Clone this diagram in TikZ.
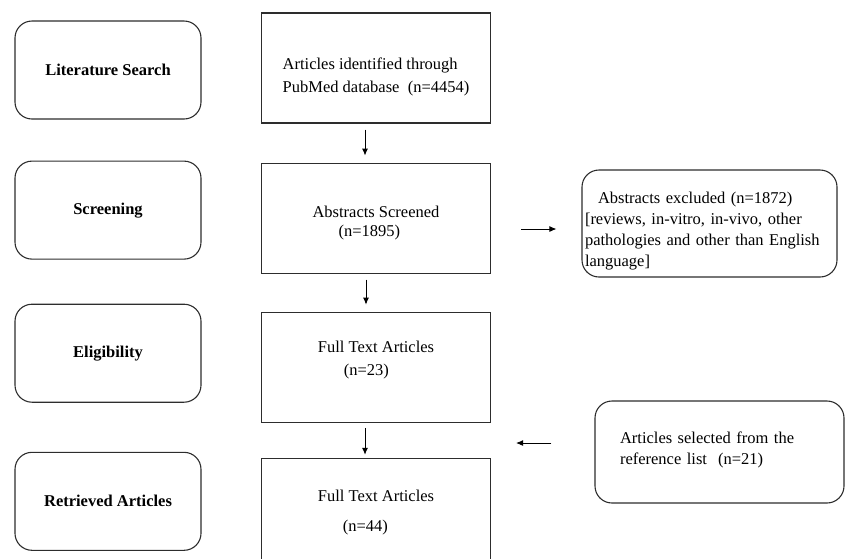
\documentclass[tikz,border=0pt]{standalone}
\usepackage{fontspec}
\setmainfont{Liberation Serif}
\usetikzlibrary{positioning,arrows.meta}
\definecolor{boxline}{RGB}{45,45,45}

\begin{document}
\begin{tikzpicture}[x=1pt,y=-1pt,
    stage/.style={rectangle,rounded corners=17pt,draw=boxline,line width=1.1pt,minimum width=186pt,minimum height=98pt,align=center,font=\fontsize{16.5}{20}\selectfont\bfseries},
    record/.style={rectangle,draw=boxline,line width=1.1pt,minimum width=229pt,minimum height=110pt,align=left,font=\fontsize{16.5}{23}\selectfont},
    sidenote/.style={rectangle,rounded corners=17pt,draw=boxline,line width=1.1pt,inner xsep=3pt,text width=249pt,minimum height=107pt,align=left,font=\fontsize{16.5}{21.3}\selectfont},
    lift/.style={text height=0pt,text depth=#1},
    drop/.style={text height=#1,text depth=0pt},
    flow/.style={-{Latex[length=7pt,width=6pt]},line width=0.9pt,black},
    node distance=39pt
]
    \useasboundingbox (0,0) rectangle (846,558);
    \clip (0,0) rectangle (846,558);

    % stages on the left
    \node[stage] (litsearch) at (108,70) {Literature Search};
    \node[stage,below=41pt of litsearch] (screening) {Screening};
    \node[stage,below=44pt of screening] (eligibility) {Eligibility};
    \node[stage,below=49pt of eligibility] (retrieved) {Retrieved Articles};

    % article counts
    \node[record,drop=48pt] (pubmed) at (376,68) {Articles identified through\\PubMed database~~(n=4454)};
    \node[record,drop=36pt,below=of pubmed] (screened) {Abstracts Screened\\[-4pt]\hspace*{26pt}(n=1895)};
    \node[record,drop=16pt,below=38pt of screened] (fulltext) {Full Text Articles\\\hspace*{26pt}(n=23)};
    \node[record,drop=36pt,below=35pt of fulltext] (final) {Full Text Articles\\[7pt]\hspace*{25pt}(n=44)};

    % side boxes
    \node[sidenote,lift=41pt] (excluded) at (709.5,223.5) {\hspace*{13pt}Abstracts excluded (n=1872)\\{}[reviews, in-vitro, in-vivo, other\\pathologies and other than English\\language]};
    \node[sidenote,lift=18pt,inner xsep=25pt,text width=199pt,minimum height=102pt] (reflist) at (719.5,452) {Articles selected from the\\reference list~~(n=21)};

    \draw[flow,shorten <=6pt,shorten >=7pt] ([xshift=-11pt]pubmed.south) -- ([xshift=-11pt]screened.north);
    \draw[flow,shorten <=6pt,shorten >=7pt] ([xshift=-10pt]screened.south) -- ([xshift=-10pt]fulltext.north);
    \draw[flow,shorten <=5pt,shorten >=3pt] ([xshift=-11pt]fulltext.south) -- ([xshift=-11pt]final.north);
    \draw[flow,shorten <=30pt,shorten >=25pt] (screened.east |- 0,229) -- (excluded.west |- 0,229);
    \draw[flow,shorten <=43pt,shorten >=25pt] (reflist.west |- 0,443) -- (final.east |- 0,443);
\end{tikzpicture}
\end{document}
